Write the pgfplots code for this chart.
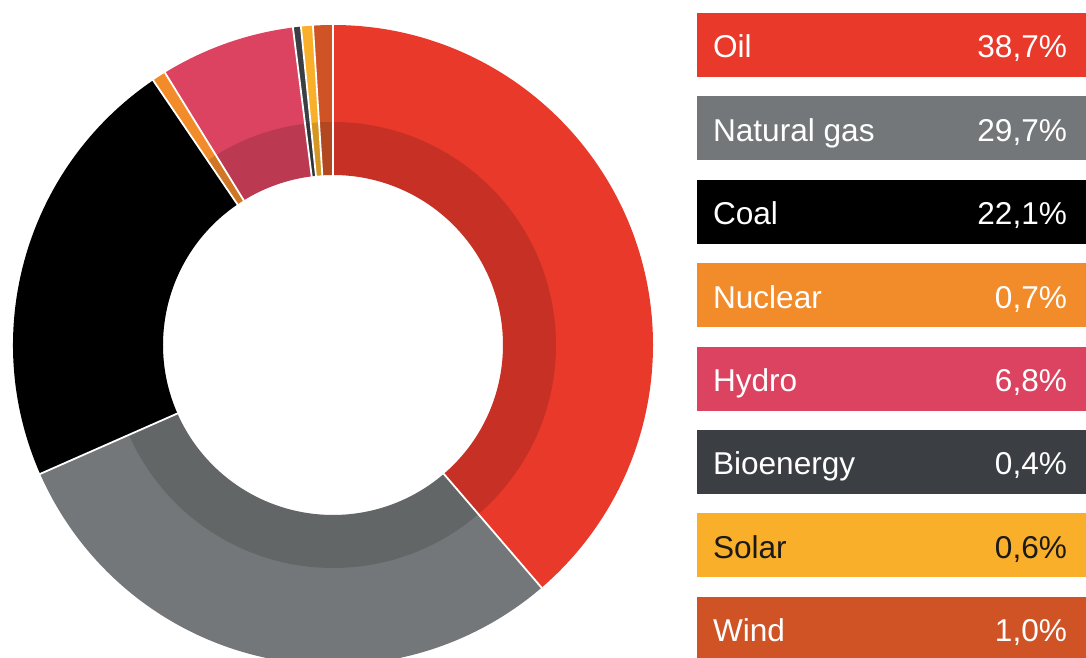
\documentclass[border=0pt]{standalone}
\usepackage{pgfplots}
\usepackage{pgfplotstable}
\pgfplotsset{compat=1.18}
\usepackage{fontspec}
\setmainfont{Liberation Sans}
\definecolor{cOil}{HTML}{E8392A}
\definecolor{cGas}{HTML}{747779}
\definecolor{cCoal}{HTML}{000000}
\definecolor{cNuc}{HTML}{F28B2A}
\definecolor{cHydro}{HTML}{DB4360}
\definecolor{cBio}{HTML}{3B3E42}
\definecolor{cSolar}{HTML}{F9AF29}
\definecolor{cWind}{HTML}{D05326}
\definecolor{cDarkTxt}{HTML}{1A1A1A}

\pgfplotstableread[col sep=comma]{
label,value,fillc,textc
Oil,38.7,cOil,white
Natural gas,29.7,cGas,white
Coal,22.1,cCoal,white
Nuclear,0.7,cNuc,white
Hydro,6.8,cHydro,white
Bioenergy,0.4,cBio,white
Solar,0.6,cSolar,cDarkTxt
Wind,1.0,cWind,white
}\energy

\begin{document}
\begin{tikzpicture}[legtxt/.style={font=\fontsize{15.8pt}{18pt}\selectfont, inner sep=0pt, outer sep=0pt}]
\begin{axis}[
  scale only axis, width=543pt, height=329pt,
  xmin=0, xmax=1086, ymin=0, ymax=658,
  hide axis, clip=true,
]
\pgfplotstablegetrowsof{\energy}
\pgfmathtruncatemacro{\nrows}{\pgfplotsretval-1}
\gdef\cum{0}
\pgfplotsforeachungrouped \i in {0,...,\nrows}{%
  \pgfplotstablegetelem{\i}{value}\of\energy \let\val\pgfplotsretval
  \pgfplotstablegetelem{\i}{fillc}\of\energy \let\fc\pgfplotsretval
  \pgfplotstablegetelem{\i}{textc}\of\energy \let\tc\pgfplotsretval
  \pgfplotstablegetelem{\i}{label}\of\energy \let\lab\pgfplotsretval
  \pgfmathsetmacro\aone{90-3.6*\cum}%
  \pgfmathsetmacro\cumnew{\cum+\val}%
  \pgfmathsetmacro\atwo{90-3.6*\cumnew}%
  \pgfmathsetmacro\ytop{645-83.4*\i}%
  \pgfmathsetmacro\ybot{\ytop-64}%
  \pgfmathsetmacro\ybase{600-83.4*\i}%
  \edef\temp{%
    \noexpand\fill[\fc, shift={(axis cs:333,313)}] (\aone:160pt) arc[start angle=\aone, end angle=\atwo, radius=160pt] -- (\atwo:85pt) arc[start angle=\atwo, end angle=\aone, radius=85pt] -- cycle;
    \noexpand\fill[\fc] (axis cs:697,\ybot) rectangle (axis cs:1095,\ytop);
    \noexpand\node[legtxt, text=\tc, anchor=base west] at (axis cs:713,\ybase) {\lab};
    \noexpand\node[legtxt, text=\tc, anchor=base east] at (axis cs:1067,\ybase) {\noexpand\pgfmathprintnumber[fixed,fixed zerofill,precision=1,use comma,assume math mode=true]{\val}\noexpand\%};
  }%
  \temp
  \global\let\cum\cumnew
}
% darker inner band
\fill[black, opacity=0.14, even odd rule, shift={(axis cs:333,313)}]
  (90:111.5pt) arc[start angle=90, end angle=-270, radius=111.5pt] -- cycle
  (90:85pt) arc[start angle=90, end angle=-270, radius=85pt] -- cycle;
% white separators
\gdef\cum{0}
\pgfplotsforeachungrouped \i in {0,...,\nrows}{%
  \pgfplotstablegetelem{\i}{value}\of\energy \let\val\pgfplotsretval
  \pgfmathsetmacro\aone{90-3.6*\cum}%
  \pgfmathsetmacro\cumnew{\cum+\val}%
  \edef\temp{%
    \noexpand\draw[white, line width=0.9pt, shift={(axis cs:333,313)}] (\aone:84pt) -- (\aone:161pt);
  }%
  \temp
  \global\let\cum\cumnew
}
\end{axis}
\pgfresetboundingbox
\path (current axis.south west) rectangle (current axis.north east);
\end{tikzpicture}
\end{document}
